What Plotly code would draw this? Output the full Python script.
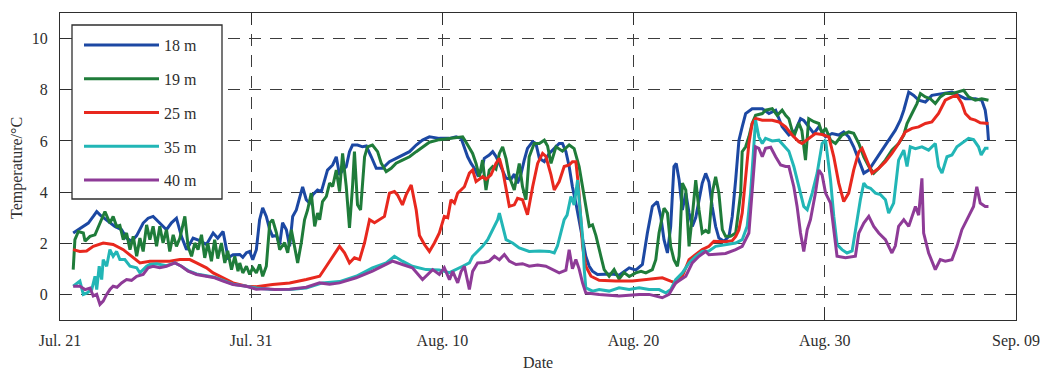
import plotly.graph_objects as go

# x positions are days since Jul. 21
tick_days = [0, 10, 20, 30, 40, 50]
tick_labels = ["Jul. 21", "Jul. 31", "Aug. 10", "Aug. 20", "Aug. 30", "Sep. 09"]
y_ticks = [0, 2, 4, 6, 8, 10]

t18 = [0.69, 0.96, 1.22, 1.48, 1.74, 1.92, 2.09, 2.44, 2.87, 3.22, 3.48, 3.74, 4.01, 4.35, 4.61, 4.87, 5.22, 5.57, 5.83, 6.09,
       6.35, 6.62, 6.96, 7.31, 7.66, 8.01, 8.25, 8.53, 8.79, 9.05, 9.40, 9.56, 9.75, 9.92, 10.08, 10.27, 10.44, 10.60, 10.79, 10.97,
       11.12, 11.32, 11.49, 11.64, 11.84, 12.01, 12.17, 12.36, 12.53, 12.69, 12.88, 13.05, 13.21, 13.47, 13.67, 13.84, 13.99, 14.26, 14.45, 14.62,
       14.78, 14.97, 15.14, 15.30, 15.56, 15.82, 16.02, 16.28, 16.54, 16.87, 17.23, 17.58, 17.91, 18.28, 18.63, 18.96, 19.32, 19.84, 20.37, 20.72,
       20.98, 21.15, 21.32, 21.50, 21.67, 21.84, 22.02, 22.19, 22.45, 22.63, 22.80, 22.98, 23.15, 23.33, 23.59, 23.76, 23.93, 24.11, 24.28, 24.45,
       24.72, 24.89, 25.07, 25.33, 25.59, 25.94, 26.11, 26.28, 26.46, 26.63, 26.80, 26.98, 27.15, 27.33, 27.50, 27.68, 27.85, 28.11, 28.55, 28.89,
       29.24, 29.77, 30.11, 30.46, 30.72, 30.98, 31.24, 31.42, 31.59, 31.77, 31.94, 32.11, 32.23, 32.38, 32.55, 32.73, 32.90, 33.07, 33.25, 33.42,
       33.59, 33.77, 33.94, 34.11, 34.29, 34.46, 34.73, 34.99, 35.16, 35.34, 35.51, 35.68, 35.86, 36.20, 36.73, 37.08, 37.43, 37.77, 38.12, 38.47,
       38.73, 38.90, 39.16, 39.43, 39.69, 40.04, 40.38, 40.73, 40.99, 41.25, 41.51, 41.78, 42.04, 42.30, 42.65, 42.99, 43.34, 43.69, 43.95, 44.13,
       44.39, 44.65, 44.91, 45.26, 45.60, 46.13, 46.65, 47.00, 47.35, 47.87, 48.21, 48.39, 48.51, 48.56]
v18 = [2.40, 2.53, 2.66, 2.79, 3.05, 3.24, 3.11, 2.92, 2.66, 2.53, 2.20, 2.08, 2.30, 2.79, 2.98, 3.05, 2.79, 2.53, 2.80, 2.98,
       2.27, 1.75, 2.20, 2.10, 1.95, 2.40, 2.20, 2.46, 1.43, 1.55, 1.56, 1.45, 1.63, 1.68, 1.36, 1.75, 2.92, 3.38, 3.05, 2.53,
       2.27, 2.30, 1.95, 2.80, 2.53, 1.88, 3.05, 3.30, 3.77, 4.20, 3.70, 3.57, 3.89, 4.08, 4.02, 4.47, 4.86, 5.06, 5.38, 4.67,
       4.86, 4.99, 5.58, 5.84, 5.84, 5.77, 5.80, 5.38, 4.93, 4.93, 5.19, 5.32, 5.45, 5.58, 5.84, 6.03, 6.16, 6.10, 6.10, 6.16,
       6.10, 5.77, 5.38, 5.12, 4.93, 4.67, 4.80, 5.32, 5.45, 5.58, 5.40, 5.12, 4.86, 4.54, 4.50, 4.70, 4.35, 4.70, 5.25, 5.71,
       5.97, 5.90, 5.32, 5.19, 5.51, 5.77, 5.90, 5.90, 5.58, 5.00, 4.21, 3.57, 2.92, 2.14, 1.49, 1.10, 0.91, 0.78, 0.78, 0.80,
       0.75, 1.04, 0.95, 1.17, 2.40, 3.44, 3.63, 3.05, 2.14, 1.62, 2.66, 5.00, 5.12, 4.47, 3.30, 3.96, 3.18, 2.66, 3.00, 3.70,
       4.35, 4.73, 4.40, 3.44, 2.66, 2.20, 2.08, 2.27, 3.05, 4.50, 6.03, 6.55, 7.07, 7.26, 7.26, 7.07, 7.20, 6.55, 6.23, 6.42,
       6.87, 6.80, 6.55, 6.29, 6.55, 6.16, 6.29, 6.23, 6.35, 6.16, 5.77, 5.25, 4.74, 4.86, 5.25, 5.64, 6.03, 6.42, 6.81, 7.20,
       7.91, 7.78, 7.59, 7.52, 7.78, 7.85, 7.91, 7.78, 7.65, 7.65, 7.59, 7.20, 6.55, 6.03]

t19 = [0.69, 0.78, 0.96, 1.22, 1.31, 1.57, 1.83, 2.09, 2.35, 2.61, 2.78, 2.96, 3.13, 3.31, 3.48, 3.66, 3.83, 4.01, 4.18, 4.35,
       4.53, 4.70, 4.87, 5.05, 5.22, 5.39, 5.57, 5.74, 5.92, 6.09, 6.27, 6.53, 6.70, 6.88, 7.05, 7.22, 7.40, 7.57, 7.73, 7.92,
       8.09, 8.25, 8.44, 8.62, 8.77, 8.97, 9.14, 9.31, 9.40, 9.56, 9.75, 9.92, 10.08, 10.27, 10.44, 10.60, 10.79, 10.97, 11.12, 11.32,
       11.49, 11.75, 11.91, 12.10, 12.27, 12.43, 12.62, 12.79, 12.95, 13.14, 13.32, 13.47, 13.58, 13.73, 13.93, 14.10, 14.26, 14.45, 14.62, 14.78,
       14.97, 15.14, 15.30, 15.40, 15.56, 15.72, 15.93, 16.08, 16.34, 16.61, 16.80, 17.06, 17.32, 17.58, 17.91, 18.28, 18.63, 18.96, 19.32, 19.84,
       20.54, 21.06, 21.20, 21.58, 21.76, 21.93, 22.10, 22.28, 22.45, 22.63, 22.80, 22.98, 23.15, 23.33, 23.50, 23.76, 24.02, 24.19, 24.37, 24.54,
       24.80, 25.07, 25.33, 25.50, 25.68, 25.94, 26.28, 26.63, 26.89, 27.15, 27.33, 27.50, 27.68, 27.85, 28.03, 28.29, 28.46, 28.72, 28.98, 29.24,
       29.50, 29.77, 30.11, 30.39, 30.64, 30.98, 31.16, 31.33, 31.59, 31.77, 31.94, 32.11, 32.29, 32.38, 32.55, 32.73, 32.90, 33.07, 33.25, 33.42,
       33.59, 33.77, 33.94, 34.11, 34.29, 34.46, 34.64, 34.81, 35.07, 35.34, 35.60, 35.68, 35.86, 36.03, 36.20, 36.38, 36.73, 36.90, 37.25, 37.51,
       37.77, 37.95, 38.12, 38.38, 38.64, 38.80, 38.99, 39.16, 39.43, 39.69, 39.86, 40.04, 40.30, 40.56, 40.90, 41.25, 41.51, 41.78, 42.04, 42.30,
       42.56, 42.82, 43.17, 43.51, 43.86, 44.13, 44.30, 44.56, 44.82, 45.00, 45.26, 45.52, 45.78, 46.04, 46.30, 46.65, 47.00, 47.26, 47.52, 47.87,
       48.21, 48.56]
v19 = [0.97, 2.14, 2.46, 2.40, 2.08, 2.27, 2.33, 2.79, 3.24, 2.79, 3.05, 2.66, 2.70, 2.14, 2.40, 1.75, 2.27, 1.49, 2.20, 1.68,
       2.72, 2.14, 2.66, 1.88, 2.66, 2.01, 2.53, 1.68, 2.33, 1.88, 2.20, 3.05, 1.88, 1.49, 2.01, 1.75, 2.33, 1.43, 2.00, 1.30,
       2.14, 1.40, 2.01, 1.23, 1.70, 0.97, 1.49, 0.91, 1.23, 0.84, 1.10, 0.78, 1.04, 0.84, 1.17, 0.71, 1.10, 2.80, 2.92, 2.41,
       1.75, 2.02, 1.63, 2.53, 1.88, 1.23, 2.02, 2.92, 3.30, 3.96, 2.66, 3.18, 2.92, 3.63, 3.83, 4.35, 4.22, 4.86, 4.02, 5.51,
       4.22, 2.60, 4.22, 5.58, 3.50, 3.30, 5.38, 5.77, 5.84, 5.58, 5.13, 4.80, 4.93, 5.13, 5.25, 5.38, 5.58, 5.77, 5.95, 6.05,
       6.10, 6.16, 6.00, 5.51, 5.12, 4.60, 5.25, 4.08, 4.86, 5.00, 4.90, 5.51, 5.77, 5.30, 4.60, 4.08, 5.12, 4.21, 3.70, 5.38,
       5.90, 5.90, 6.03, 5.80, 5.12, 5.77, 5.60, 5.84, 5.70, 5.00, 4.21, 3.44, 2.66, 2.72, 2.30, 1.49, 0.97, 0.71, 0.97, 0.60,
       0.85, 0.70, 0.84, 0.90, 0.84, 0.97, 1.36, 2.40, 3.37, 3.18, 1.88, 1.36, 1.10, 1.50, 4.35, 4.08, 1.88, 3.05, 4.47, 3.30,
       2.40, 2.50, 2.40, 3.96, 4.60, 3.96, 2.53, 2.27, 2.27, 2.40, 3.96, 5.58, 5.77, 6.16, 6.68, 7.00, 7.07, 7.20, 7.26, 7.00,
       7.20, 7.00, 6.87, 6.16, 6.70, 6.40, 5.25, 6.87, 6.75, 6.68, 6.29, 6.50, 6.03, 5.90, 6.23, 6.35, 6.30, 5.90, 5.38, 5.00,
       4.74, 4.93, 5.25, 5.64, 5.90, 6.23, 6.68, 7.07, 7.46, 7.85, 7.72, 7.65, 7.46, 7.72, 7.85, 7.85, 7.91, 7.98, 7.72, 7.59,
       7.65, 7.59]

t25 = [0.69, 1.04, 1.39, 1.74, 2.26, 2.78, 3.31, 3.74, 4.18, 4.70, 5.22, 5.74, 6.27, 6.79, 7.14, 7.66, 8.01, 8.53, 9.05, 9.75,
       10.27, 11.12, 12.01, 12.88, 13.58, 13.93, 14.26, 14.62, 14.88, 15.14, 15.40, 15.67, 15.93, 16.19, 16.45, 16.71, 16.97, 17.23, 17.49, 17.65,
       17.91, 18.10, 18.37, 18.63, 18.80, 19.06, 19.32, 19.58, 19.84, 20.10, 20.28, 20.45, 20.63, 20.80, 21.15, 21.41, 21.58, 21.76, 22.10, 22.28,
       22.54, 22.80, 22.98, 23.15, 23.33, 23.50, 23.76, 23.93, 24.19, 24.45, 24.72, 24.98, 25.24, 25.41, 25.68, 25.85, 26.11, 26.37, 26.63, 26.80,
       26.98, 27.12, 27.24, 27.33, 27.50, 27.77, 28.20, 29.07, 29.94, 30.81, 31.50, 31.94, 32.20, 32.55, 32.90, 33.25, 33.59, 33.94, 34.20, 34.81,
       35.16, 35.34, 35.51, 35.68, 35.86, 36.03, 36.20, 36.38, 36.73, 37.25, 37.60, 37.95, 38.29, 38.64, 38.81, 39.16, 39.51, 39.86, 40.21, 40.47,
       40.73, 40.99, 41.25, 41.51, 41.78, 41.95, 42.21, 42.47, 42.82, 43.17, 43.51, 43.86, 44.21, 44.56, 44.91, 45.26, 45.60, 45.95, 46.30, 46.65,
       46.91, 47.17, 47.35, 47.61, 47.87, 48.13, 48.56]
v25 = [1.75, 1.68, 1.70, 1.88, 2.01, 1.95, 1.75, 1.49, 1.23, 1.30, 1.30, 1.30, 1.36, 1.36, 1.23, 1.04, 0.84, 0.65, 0.45, 0.32,
       0.30, 0.39, 0.45, 0.58, 0.71, 1.10, 1.49, 1.88, 1.63, 1.23, 1.43, 1.36, 2.02, 2.92, 2.80, 2.92, 3.05, 3.96, 4.02, 3.89,
       3.50, 3.89, 4.28, 3.30, 2.30, 1.95, 1.68, 2.01, 2.40, 3.05, 3.00, 3.70, 3.57, 3.96, 4.21, 4.74, 4.86, 4.41, 4.60, 4.50,
       4.67, 5.12, 5.32, 4.86, 4.08, 3.44, 3.50, 3.76, 3.70, 3.11, 4.21, 5.12, 5.51, 5.40, 4.67, 4.08, 4.41, 5.00, 5.06, 5.19,
       5.19, 4.21, 2.92, 1.88, 1.10, 0.71, 0.55, 0.52, 0.52, 0.58, 0.65, 0.52, 0.45, 0.71, 1.36, 1.56, 1.75, 1.88, 2.08, 2.06,
       2.10, 2.27, 2.53, 3.18, 4.47, 5.90, 6.68, 6.88, 6.81, 6.81, 6.74, 6.55, 6.23, 5.97, 5.90, 6.10, 6.29, 6.25, 6.16, 5.38,
       4.35, 3.63, 3.96, 4.86, 5.58, 5.71, 5.25, 4.74, 4.93, 5.19, 5.51, 5.90, 6.35, 6.49, 6.55, 6.68, 6.74, 7.07, 7.59, 7.72,
       7.78, 7.46, 7.07, 6.87, 6.81, 6.71, 6.68]

t35 = [0.69, 1.04, 1.22, 1.39, 1.66, 1.83, 1.92, 2.05, 2.18, 2.26, 2.44, 2.61, 2.78, 2.96, 3.13, 3.39, 3.66, 4.01, 4.18, 4.53,
       4.70, 5.05, 5.57, 6.01, 6.35, 6.70, 7.14, 7.66, 8.09, 8.53, 9.05, 9.75, 10.27, 10.97, 12.01, 12.88, 13.73, 14.62, 15.49, 16.34,
       17.06, 17.49, 17.91, 18.43, 19.15, 19.84, 20.37, 21.06, 21.41, 21.58, 21.84, 22.10, 22.37, 22.72, 22.89, 22.98, 23.15, 23.33, 23.67, 24.02,
       24.54, 25.07, 25.59, 25.85, 26.02, 26.20, 26.37, 26.52, 26.72, 26.89, 27.07, 27.15, 27.33, 27.42, 27.50, 27.85, 28.20, 28.72, 29.24, 29.77,
       30.29, 30.81, 31.33, 31.68, 31.94, 32.20, 32.55, 32.90, 33.25, 33.59, 33.94, 34.29, 34.81, 35.34, 35.68, 35.94, 36.12, 36.29, 36.38, 36.55,
       36.73, 36.90, 37.25, 37.60, 37.95, 38.12, 38.38, 38.64, 38.90, 39.08, 39.34, 39.60, 39.86, 40.04, 40.30, 40.47, 40.64, 40.90, 41.16, 41.43,
       41.69, 41.86, 42.04, 42.19, 42.39, 42.65, 42.91, 43.17, 43.34, 43.60, 43.86, 44.13, 44.30, 44.47, 44.74, 45.08, 45.43, 45.78, 45.95, 46.13,
       46.39, 46.65, 46.91, 47.17, 47.52, 47.78, 48.04, 48.18, 48.39, 48.56]
v35 = [0.32, 0.52, 0.00, 0.05, 0.19, 0.71, 0.19, 1.10, 0.58, 1.36, 1.10, 1.75, 1.49, 1.68, 1.36, 1.36, 1.10, 1.04, 0.84, 1.10,
       1.17, 1.20, 1.12, 1.23, 1.10, 0.93, 0.80, 0.73, 0.67, 0.55, 0.40, 0.32, 0.25, 0.20, 0.19, 0.25, 0.45, 0.50, 0.71, 1.04,
       1.23, 1.49, 1.30, 1.10, 0.97, 0.95, 0.85, 1.10, 1.23, 1.49, 1.68, 1.88, 2.14, 2.66, 2.92, 3.18, 2.66, 2.14, 2.01, 1.82,
       1.68, 1.70, 1.68, 1.62, 1.90, 2.40, 2.92, 3.10, 3.83, 3.50, 4.47, 3.70, 2.27, 0.97, 0.26, 0.13, 0.19, 0.13, 0.26, 0.19,
       0.26, 0.19, 0.19, 0.06, 0.19, 0.58, 0.84, 1.23, 1.49, 1.68, 1.70, 1.88, 1.95, 2.01, 2.14, 2.66, 3.96, 5.77, 6.81, 6.16,
       5.90, 6.10, 6.00, 6.03, 5.71, 5.60, 5.00, 4.21, 3.44, 3.31, 3.96, 4.74, 5.90, 6.03, 4.47, 3.05, 1.95, 1.75, 1.62, 1.70,
       2.92, 3.70, 4.35, 4.20, 4.15, 3.96, 3.90, 3.70, 3.18, 3.57, 5.25, 5.64, 5.00, 5.77, 5.70, 5.77, 5.64, 5.90, 5.00, 4.74,
       5.38, 5.45, 5.77, 5.90, 6.10, 6.05, 5.77, 5.45, 5.71, 5.71]

t40 = [0.69, 1.04, 1.31, 1.57, 1.74, 1.92, 2.09, 2.26, 2.44, 2.61, 2.78, 2.98, 3.22, 3.48, 3.74, 4.01, 4.35, 4.61, 4.87, 5.22,
       5.57, 6.01, 6.35, 6.70, 7.14, 7.66, 8.09, 8.53, 9.05, 9.75, 10.27, 10.70, 11.23, 12.01, 12.88, 13.58, 14.10, 14.62, 15.49, 16.34,
       17.06, 17.39, 17.91, 18.43, 18.96, 19.32, 19.49, 19.84, 20.10, 20.37, 20.54, 20.80, 20.98, 21.15, 21.32, 21.41, 21.58, 21.84, 22.19, 22.45,
       22.72, 22.98, 23.24, 23.50, 23.85, 24.19, 24.54, 24.98, 25.41, 25.76, 26.11, 26.46, 26.63, 26.80, 26.98, 27.15, 27.33, 27.50, 28.20, 29.24,
       30.29, 30.81, 31.50, 31.85, 32.20, 32.73, 33.07, 33.42, 33.77, 33.94, 34.29, 34.81, 35.34, 35.68, 36.03, 36.20, 36.38, 36.55, 36.73, 36.90,
       37.17, 37.43, 37.69, 37.95, 38.12, 38.38, 38.55, 38.73, 38.90, 39.08, 39.25, 39.51, 39.69, 39.86, 40.04, 40.30, 40.47, 40.64, 41.08, 41.60,
       41.78, 42.04, 42.30, 42.56, 42.82, 43.17, 43.51, 43.69, 43.86, 44.13, 44.39, 44.74, 44.91, 45.08, 45.17, 45.43, 45.78, 46.04, 46.30, 46.65,
       46.91, 47.17, 47.52, 47.78, 47.95, 48.13, 48.39, 48.56]
v40 = [0.32, 0.32, 0.19, 0.25, -0.06, 0.00, -0.39, -0.26, 0.00, 0.19, 0.32, 0.28, 0.45, 0.58, 0.55, 0.71, 0.78, 1.04, 1.10, 1.04,
       1.10, 1.23, 1.10, 0.91, 0.78, 0.71, 0.65, 0.52, 0.39, 0.32, 0.20, 0.22, 0.19, 0.20, 0.28, 0.45, 0.40, 0.45, 0.65, 0.91,
       1.17, 1.30, 1.17, 1.04, 0.58, 0.84, 0.97, 0.78, 1.04, 0.58, 0.90, 0.45, 0.90, 1.10, 0.45, 0.19, 0.90, 1.23, 1.25, 1.30,
       1.49, 1.35, 1.56, 1.30, 1.17, 1.20, 1.10, 1.15, 1.10, 0.97, 0.84, 0.95, 1.75, 1.00, 1.36, 1.00, 0.45, 0.06, 0.00, -0.06,
       0.00, 0.00, -0.13, 0.00, 0.45, 0.71, 1.23, 1.49, 1.68, 1.55, 1.56, 1.60, 1.75, 1.88, 2.40, 3.96, 5.77, 5.71, 5.38, 5.71,
       5.75, 5.38, 5.06, 5.00, 5.00, 4.21, 3.44, 2.40, 1.68, 2.53, 2.92, 3.96, 4.86, 4.67, 3.96, 3.57, 2.40, 1.49, 1.43, 1.49,
       2.40, 2.79, 3.05, 2.66, 2.40, 2.14, 1.62, 1.90, 2.66, 2.92, 2.66, 3.44, 3.10, 4.54, 2.40, 1.62, 0.97, 1.36, 1.30, 1.36,
       1.88, 2.53, 3.05, 3.44, 4.21, 3.57, 3.44, 3.44]

series_names = ["18 m", "19 m", "25 m", "35 m", "40 m"]
series_t = [t18, t19, t25, t35, t40]
series_v = [v18, v19, v25, v35, v40]
series_colors = ["#1c48a3", "#1f7c3a", "#e8281e", "#22b6b6", "#8e3b97"]

SERIF = "Liberation Serif, Times New Roman, serif"
INK = "#2e2e2e"

# figure geometry (pixels)
W, H = 1042, 372
ML, MR, MT, MB = 60, 26, 13, 52
PW, PH = W - ML - MR, H - MT - MB


def px_x(p):
    return (p - ML) / PW


def px_y(p):
    return (H - MB - p) / PH


fig = go.Figure()
for name, t, v, c in zip(series_names, series_t, series_v, series_colors):
    fig.add_trace(go.Scatter(x=t, y=v, mode="lines", name=name, legendgroup=name,
                             line=dict(color=c, width=3)))

axis_common = dict(
    showline=True, linecolor=INK, linewidth=1.3, mirror="allticks",
    ticks="inside", tickwidth=1.3, tickcolor=INK,
    showgrid=True, gridcolor="#3c3c3c", gridwidth=1, griddash="12px,9px",
    zeroline=False, automargin=False,
    tickfont=dict(family=SERIF, size=16, color=INK),
)

fig.update_xaxes(range=[0, 50], tickvals=tick_days, ticktext=tick_labels,
                 ticklen=12, ticklabelstandoff=6, **axis_common)
fig.update_yaxes(range=[-1, 11], tickvals=y_ticks,
                 ticklen=10, ticklabelstandoff=8, **axis_common)

# legend frame
fig.add_shape(type="rect", xref="paper", yref="paper",
              x0=px_x(72), x1=px_x(222), y0=px_y(199), y1=px_y(25),
              fillcolor="white", line=dict(color=INK, width=1.3), layer="above")

# axis titles
fig.add_annotation(text="Date", xref="paper", yref="paper", x=0.5, y=px_y(362),
                   xanchor="center", yanchor="middle", showarrow=False,
                   font=dict(family=SERIF, size=16, color=INK))
fig.add_annotation(text="Temperature/°C", xref="paper", yref="paper", x=px_x(17), y=px_y(168),
                   xanchor="center", yanchor="middle", textangle=-90, showarrow=False,
                   font=dict(family=SERIF, size=16, color=INK))

fig.update_layout(
    width=W, height=H,
    margin=dict(l=ML, r=MR, t=MT, b=MB),
    paper_bgcolor="white", plot_bgcolor="white",
    font=dict(family=SERIF, size=16, color=INK),
    legend=dict(x=px_x(79), y=px_y(28), xanchor="left", yanchor="top",
                bgcolor="rgba(0,0,0,0)", borderwidth=0,
                font=dict(family=SERIF, size=16, color=INK),
                tracegroupgap=10, itemwidth=75),
    showlegend=True,
)

fig.write_html("out.html")
